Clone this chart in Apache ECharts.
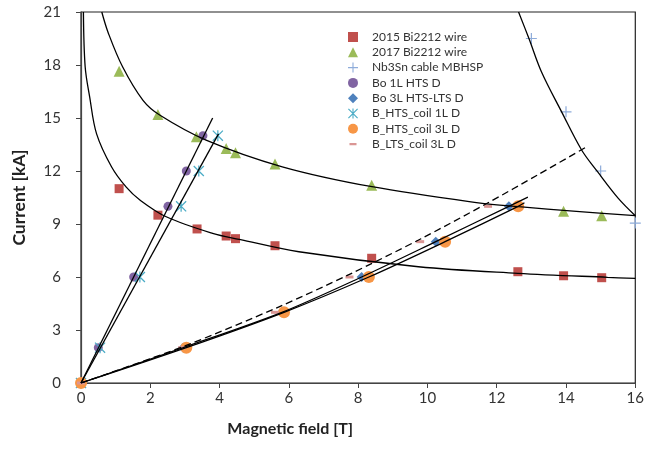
<!DOCTYPE html>
<html>
<head>
<meta charset="utf-8">
<script src="https://cdn.jsdelivr.net/npm/echarts@6/dist/echarts.min.js"></script>
<style>
html, body { margin: 0; padding: 0; background: #fff; }
#chart { width: 647px; height: 456px; }
</style>
</head>
<body>
<div id="chart"></div>
<script>
// ============================
// Datos (B en T, I en kA)
// ============================
var wire2015 = [[1.1, 11.0], [2.22, 9.5], [3.35, 8.72], [4.19, 8.32], [4.46, 8.17], [5.6, 7.77], [8.39, 7.06], [12.61, 6.3], [13.93, 6.07], [15.03, 5.96]];
var wire2017 = [[1.1, 17.65], [2.22, 15.2], [3.33, 13.94], [4.19, 13.28], [4.46, 13.03], [5.6, 12.39], [8.39, 11.2], [13.93, 9.72], [15.03, 9.47]];
var nb3snCable = [[13.0, 19.5], [14.0, 15.35], [15.0, 12.0], [16.0, 9.05]];
var bo1L = [[0, 0], [0.5, 2], [1.52, 6], [2.51, 10], [3.04, 12], [3.52, 14]];
var bo3L = [[0, 0], [2.95, 2], [5.8, 4], [8.1, 6], [10.24, 8], [12.35, 10]];
var htsCoil1L = [[0, 0], [0.55, 2], [1.7, 6], [2.89, 10], [3.4, 12], [3.95, 14]];
var htsCoil3L = [[0, 0], [3.04, 2], [5.86, 4], [8.31, 6], [10.51, 8], [12.62, 10]];
var ltsCoil3L = [[0, 0], [2.92, 2], [5.6, 4], [7.75, 6], [9.79, 8], [11.75, 10]];

// curvas de ajuste (leídas punto a punto)
var fit2015 = [[0.07, 21], [0.12, 17.9], [0.25, 16.2], [0.45, 14.1], [0.88, 12.24], [1.3, 11.1], [1.7, 10.36], [2.46, 9.41], [3.8, 8.47], [4.57, 8.13], [6.29, 7.43], [9.74, 6.58], [12.61, 6.21], [15.2, 5.98], [16, 5.92]];
var fit2017 = [[0.6, 21], [0.79, 19.8], [1.2, 17.9], [1.79, 16.0], [2.27, 15.17], [3.61, 13.75], [5.81, 12.24], [8.4, 11.11], [11.47, 10.2], [12.63, 9.98], [14.3, 9.72], [16, 9.47]];
var fitNb3sn = [[12.63, 21], [12.93, 19.5], [13.29, 17.62], [13.87, 15.36], [14.45, 13.19], [14.91, 11.96], [15.51, 10.45], [16, 9.47]];
var loadBo1L = [[0, 0], [3.8, 15]];
var loadHts1L = [[0, 0], [3.97, 14.1]];
var loadBo3L = [[0, 0], [2.95, 2], [5.8, 4], [8.1, 6], [10.24, 8], [12.35, 10], [12.9, 10.52]];
var loadHts3L = [[0, 0], [3.04, 2], [5.86, 4], [8.31, 6], [10.51, 8], [12.62, 10], [12.8, 10.2]];
var loadLts3L = [[0, 0], [3.0, 2.1], [5.7, 4.3], [7.75, 6.15], [9.8, 8.15], [11.75, 10.2], [13.2, 11.8], [14.63, 13.41]];

var xTicks = { min: 0, max: 16, step: 2 };
var yTicks = { min: 0, max: 21, step: 3 };

// ============================
// Símbolos
// ============================
var FONT = "Lato, 'DejaVu Sans', sans-serif";
var plusPath = "path://M0,4.45H10V5.55H0ZM4.45,0H5.55V10H4.45Z";
var starPath = "path://M0,0.8L0.8,0L10,9.2L9.2,10ZM9.2,0L10,0.8L0.8,10L0,9.2ZM4.45,0H5.55V10H4.45Z";
var dashPath = "path://M0,0L0.01,0ZM10,10L9.99,10ZM1.5,3.8H8.5V6.2H1.5Z";

function scatter(name, data, symbol, size, color) {
    return {
        name: name,
        type: "scatter",
        data: data,
        symbol: symbol,
        symbolSize: size,
        itemStyle: { color: color, opacity: 1 },
        z: 2
    };
}

function fitLine(data, dashed, smooth) {
    return {
        type: "line",
        data: data,
        showSymbol: false,
        silent: true,
        smooth: smooth || false,
        lineStyle: { color: "#000", width: 1.3, type: dashed ? [7, 4] : "solid" },
        z: 3
    };
}

var chart = echarts.init(document.getElementById("chart"));
chart.setOption({
    animation: false,
    grid: { left: 81, right: 11, top: 12, bottom: 73, show: true, borderColor: "#222", borderWidth: 1.2 },
    legend: {
        orient: "vertical",
        left: 343,
        top: 26,
        itemWidth: 10,
        itemHeight: 10,
        itemGap: 3.3,
        textStyle: { fontFamily: FONT, fontSize: 12, color: "#333", padding: [0, 0, 0, 9] },
        data: [
            { name: "2015 Bi2212 wire", icon: "rect" },
            { name: "2017 Bi2212 wire", icon: "triangle" },
            { name: "Nb3Sn cable MBHSP", icon: plusPath },
            { name: "Bo 1L HTS D", icon: "circle" },
            { name: "Bo 3L HTS-LTS D", icon: "diamond" },
            { name: "B_HTS_coil 1L D", icon: starPath },
            { name: "B_HTS_coil 3L D", icon: "circle" },
            { name: "B_LTS_coil 3L D", icon: dashPath }
        ]
    },
    xAxis: {
        type: "value",
        min: xTicks.min,
        max: xTicks.max,
        interval: xTicks.step,
        name: "Magnetic field [T]",
        nameLocation: "middle",
        nameGap: 38,
        nameTextStyle: { fontFamily: FONT, fontSize: 16, fontWeight: "bold", color: "#222", padding: [0, 136, 0, 0] },
        axisLine: { lineStyle: { color: "#444", width: 1.2 } },
        axisTick: { show: true, inside: false, length: 5, lineStyle: { color: "#444" } },
        axisLabel: { fontFamily: FONT, fontSize: 15, color: "#333", margin: 8 },
        splitLine: { show: false }
    },
    yAxis: {
        type: "value",
        min: yTicks.min,
        max: yTicks.max,
        interval: yTicks.step,
        name: "Current [kA]",
        nameLocation: "middle",
        nameGap: 53,
        nameTextStyle: { fontFamily: FONT, fontSize: 17.5, fontWeight: "bold", color: "#222" },
        axisLine: { show: true, lineStyle: { color: "#444", width: 1.2 } },
        axisTick: { show: true, inside: false, length: 5, lineStyle: { color: "#444" } },
        axisLabel: { fontFamily: FONT, fontSize: 15, color: "#333", margin: 20 },
        splitLine: { show: false }
    },
    series: [
        scatter("2015 Bi2212 wire", wire2015, "rect", 9, "#C0504D"),
        scatter("2017 Bi2212 wire", wire2017, "triangle", 11, "#9BBB59"),
        scatter("Nb3Sn cable MBHSP", nb3snCable, plusPath, 11, "#8EACDA"),
        scatter("Bo 1L HTS D", bo1L, "circle", 9, "#8064A2"),
        scatter("Bo 3L HTS-LTS D", bo3L, "diamond", 10, "#4F81BD"),
        scatter("B_HTS_coil 1L D", htsCoil1L, starPath, 11, "#4BACC6"),
        scatter("B_HTS_coil 3L D", htsCoil3L, "circle", 12, "#F79646"),
        scatter("B_LTS_coil 3L D", ltsCoil3L, "rect", [8, 3], "#DA9694"),
        fitLine(fit2015, false, 0.35),
        fitLine(fit2017, false, 0.35),
        fitLine(fitNb3sn, false, 0.35),
        fitLine(loadBo1L, false, false),
        fitLine(loadHts1L, false, false),
        fitLine(loadBo3L, false, 0.3),
        fitLine(loadHts3L, false, 0.3),
        fitLine(loadLts3L, true, 0.3)
    ]
});
</script>
</body>
</html>
